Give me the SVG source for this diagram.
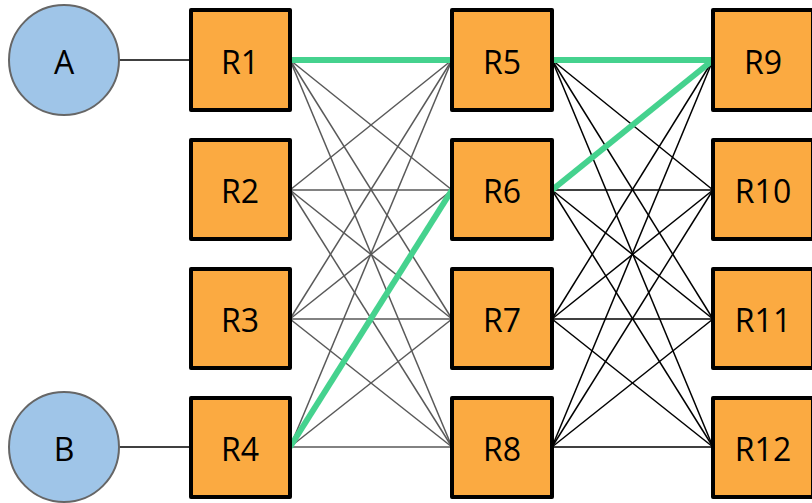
<svg xmlns="http://www.w3.org/2000/svg" width="812" height="503" viewBox="0 0 812 503">
  <style>
    .host { fill: #9fc5e8; stroke: #666666; stroke-width: 2; }
    .router { fill: #fbaa41; stroke: #000000; stroke-width: 4; stroke-linejoin: round; }
    .label { font-family: "Open Sans", "Noto Sans", sans-serif; font-size: 32px; fill: #000000; text-anchor: middle; dominant-baseline: central; }
    .access { stroke: #000000; stroke-width: 1.6; fill: none; }
    .mesh1 { stroke: #595959; stroke-width: 1.5; fill: none; }
    .mesh2 { stroke: #000000; stroke-width: 1.5; fill: none; }
    .path { stroke: #45d28e; stroke-width: 6; fill: none; stroke-linecap: butt; }
  </style>

  <g id="connectors">
    <!-- host access links -->
    <line class="access" x1="119" y1="60" x2="191" y2="60"/>
    <line class="access" x1="119" y1="447" x2="191" y2="447"/>

    <!-- stage 1 mesh: R1-R4 to R5-R8 -->
    <g class="mesh1">
      <line x1="290" y1="60" x2="452" y2="60"/>
      <line x1="290" y1="60" x2="452" y2="190"/>
      <line x1="290" y1="60" x2="452" y2="319"/>
      <line x1="290" y1="60" x2="452" y2="447"/>
      <line x1="290" y1="190" x2="452" y2="60"/>
      <line x1="290" y1="190" x2="452" y2="190"/>
      <line x1="290" y1="190" x2="452" y2="319"/>
      <line x1="290" y1="190" x2="452" y2="447"/>
      <line x1="290" y1="319" x2="452" y2="60"/>
      <line x1="290" y1="319" x2="452" y2="190"/>
      <line x1="290" y1="319" x2="452" y2="319"/>
      <line x1="290" y1="319" x2="452" y2="447"/>
      <line x1="290" y1="447" x2="452" y2="60"/>
      <line x1="290" y1="447" x2="452" y2="190"/>
      <line x1="290" y1="447" x2="452" y2="319"/>
      <line x1="290" y1="447" x2="452" y2="447"/>
    </g>

    <!-- stage 2 mesh: R5-R8 to R9-R12 -->
    <g class="mesh2">
      <line x1="552" y1="60" x2="713" y2="60"/>
      <line x1="552" y1="60" x2="713" y2="190"/>
      <line x1="552" y1="60" x2="713" y2="319"/>
      <line x1="552" y1="60" x2="713" y2="447"/>
      <line x1="552" y1="190" x2="713" y2="60"/>
      <line x1="552" y1="190" x2="713" y2="190"/>
      <line x1="552" y1="190" x2="713" y2="319"/>
      <line x1="552" y1="190" x2="713" y2="447"/>
      <line x1="552" y1="319" x2="713" y2="60"/>
      <line x1="552" y1="319" x2="713" y2="190"/>
      <line x1="552" y1="319" x2="713" y2="319"/>
      <line x1="552" y1="319" x2="713" y2="447"/>
      <line x1="552" y1="447" x2="713" y2="60"/>
      <line x1="552" y1="447" x2="713" y2="190"/>
      <line x1="552" y1="447" x2="713" y2="319"/>
      <line x1="552" y1="447" x2="713" y2="447"/>
    </g>

    <!-- highlighted routes -->
    <g class="path">
      <line x1="290" y1="60" x2="452" y2="60"/>
      <line x1="290" y1="447" x2="452" y2="190"/>
      <line x1="552" y1="60" x2="713" y2="60"/>
      <line x1="552" y1="190" x2="713" y2="60"/>
    </g>
  </g>

  <!-- hosts -->
  <g id="A">
    <circle class="host" cx="64" cy="60" r="55"/>
    <text class="label" x="64" y="61">A</text>
  </g>
  <g id="B">
    <circle class="host" cx="64" cy="447" r="55"/>
    <text class="label" x="64" y="448">B</text>
  </g>

  <!-- column 1 -->
  <g id="R1">
    <rect class="router" x="191" y="10" width="99" height="100"/>
    <text class="label" x="240" y="61">R1</text>
  </g>
  <g id="R2">
    <rect class="router" x="191" y="140" width="99" height="99"/>
    <text class="label" x="240" y="190">R2</text>
  </g>
  <g id="R3">
    <rect class="router" x="191" y="269" width="99" height="99"/>
    <text class="label" x="240" y="319">R3</text>
  </g>
  <g id="R4">
    <rect class="router" x="191" y="398" width="99" height="99"/>
    <text class="label" x="240" y="448">R4</text>
  </g>

  <!-- column 2 -->
  <g id="R5">
    <rect class="router" x="452" y="10" width="100" height="100"/>
    <text class="label" x="502" y="61">R5</text>
  </g>
  <g id="R6">
    <rect class="router" x="452" y="140" width="100" height="99"/>
    <text class="label" x="502" y="190">R6</text>
  </g>
  <g id="R7">
    <rect class="router" x="452" y="269" width="100" height="99"/>
    <text class="label" x="502" y="319">R7</text>
  </g>
  <g id="R8">
    <rect class="router" x="452" y="398" width="100" height="99"/>
    <text class="label" x="502" y="448">R8</text>
  </g>

  <!-- column 3 -->
  <g id="R9">
    <rect class="router" x="713" y="10" width="100" height="100"/>
    <text class="label" x="763" y="61">R9</text>
  </g>
  <g id="R10">
    <rect class="router" x="713" y="140" width="100" height="99"/>
    <text class="label" x="763" y="190">R10</text>
  </g>
  <g id="R11">
    <rect class="router" x="713" y="269" width="100" height="99"/>
    <text class="label" x="763" y="319">R11</text>
  </g>
  <g id="R12">
    <rect class="router" x="713" y="398" width="100" height="99"/>
    <text class="label" x="763" y="448">R12</text>
  </g>
</svg>
